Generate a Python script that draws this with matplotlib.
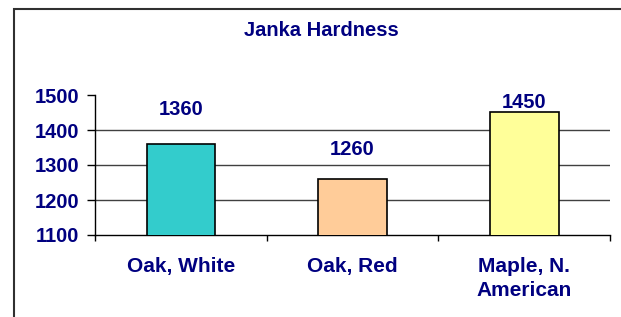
import matplotlib
matplotlib.use("Agg")
import matplotlib.pyplot as plt
from matplotlib.patches import Rectangle

categories = ["Oak, White", "Oak, Red", "Maple, N.\nAmerican"]
values = [1360, 1260, 1450]
yticks = [1100, 1200, 1300, 1400, 1500]
title = "Janka Hardness"

colors = ["#33CCCC", "#FFCC99", "#FFFF99"]
label_offsets_pt = [25, 21.5, 7.5]
navy = "#000080"

plt.rcParams['font.family'] = ['Liberation Sans', 'DejaVu Sans']
plt.rcParams['font.weight'] = 'bold'

fig = plt.figure(figsize=(6.21, 3.17), dpi=100)
fig.patch.set_facecolor("white")

# chart area frame
fig.patches.append(Rectangle((13.5/621, -0.1), 1.2, 1.1 - 8.5/317, transform=fig.transFigure,
                             fill=False, edgecolor="#303030", linewidth=1.5, clip_on=False))

ax = fig.add_axes([95/621, 1-235/317, (610-95)/621, (235-95)/317])
x = list(range(len(categories)))
ax.bar(x, values, width=0.4, bottom=0, color=colors, edgecolor="black", linewidth=1.2, zorder=3)
ax.set_ylim(yticks[0], yticks[-1])
ax.set_xlim(-0.5, len(categories) - 0.5)

for v in yticks[1:-1]:
    ax.axhline(v, color="#404040", linewidth=1.0, zorder=1)

ax.set_yticks(yticks)
ax.set_yticklabels([str(t) for t in yticks], fontsize=14.5, fontweight='bold', color=navy)
ax.tick_params(axis='y', direction='out', length=5.5, width=1, pad=6, colors='black', labelcolor=navy)

# x ticks at category boundaries, labels at centers
ax.set_xticks([i - 0.5 for i in range(len(categories) + 1)])
ax.set_xticklabels([])
ax.tick_params(axis='x', direction='out', length=4, width=1)
ax.set_xticks(x, minor=True)
ax.set_xticklabels(categories, minor=True, fontsize=15, fontweight='bold', color=navy, linespacing=1.38)
ax.tick_params(axis='x', which='minor', length=0, pad=15.5)

for s in ['top', 'right']:
    ax.spines[s].set_visible(False)
for s in ['left', 'bottom']:
    ax.spines[s].set_color('black')
    ax.spines[s].set_linewidth(1.0)

for xi, v, off in zip(x, values, label_offsets_pt):
    ax.annotate(str(v), (xi, v), xytext=(0, off), textcoords='offset points',
                ha='center', va='center', fontsize=14.5, fontweight='bold', color=navy,
                annotation_clip=False)

fig.text(321/621, 1-31/317, title, ha='center', va='center', fontsize=14.5, fontweight='bold', color=navy)

fig.savefig("out.png", dpi=100, facecolor="white")
